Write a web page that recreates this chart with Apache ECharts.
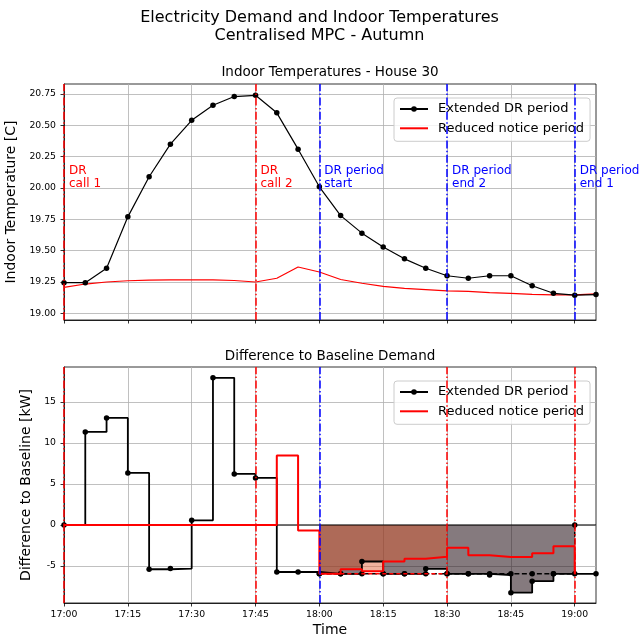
<!DOCTYPE html>
<html><head><meta charset="utf-8">
<script src="https://cdn.jsdelivr.net/npm/echarts@6/dist/echarts.min.js"></script>
<style>html,body{margin:0;padding:0;background:#fff}#c{width:639px;height:640px}</style>
</head><body><div id="c"></div>
<script>
// ---- data ----
const minutes = [0,5,10,15,20,25,30,35,40,45,50,55,60,65,70,75,80,85,90,95,100,105,110,115,120,125];
const xTickValues = [0,15,30,45,60,75,90,105,120];
const xTickLabels = ['17:00','17:15','17:30','17:45','18:00','18:15','18:30','18:45','19:00'];
const tempTicks = [19.00,19.25,19.50,19.75,20.00,20.25,20.50,20.75];
const demandTicks = [-5,0,5,10,15];

const tempExtended = [19.245,19.245,19.36,19.77,20.09,20.35,20.54,20.66,20.73,20.74,
                      20.60,20.31,20.01,19.78,19.64,19.53,19.435,19.36,19.30,19.28,
                      19.30,19.30,19.22,19.16,19.145,19.15];
const tempReduced = [19.207,19.234,19.25,19.26,19.265,19.267,19.268,19.267,19.262,19.25,
                     19.28,19.37,19.33,19.27,19.24,19.215,19.20,19.19,19.18,19.175,
                     19.165,19.16,19.152,19.148,19.147,19.155];

const demandExtended = [0,11.34,13.05,6.34,-5.4,-5.32,0.57,17.93,6.22,5.73,
                        -5.73,-5.73,-5.95,-5.95,-4.45,-5.95,-5.95,-5.34,-5.95,-5.95,
                        -6.1,-8.25,-6.85,-5.95,-5.95,-5.95];
const demandReduced = [0,0,0,0,0,0,0,0,0,0,
                       8.45,-0.67,-5.95,-5.4,-5.65,-4.45,-4.12,-3.88,-2.78,-3.68,
                       -3.9,-3.9,-3.45,-2.6,-5.95];
// reference levels during DR
const refExtendedTimes = [60,65,70,75,80,85,90,95,100,105,110,115,120];
const refExtended = [-5.95,-5.95,-5.95,-5.95,-5.95,-5.95,-5.95,-5.95,-5.95,-5.95,-5.95,-5.95,0];
const refReducedTimes = [60,65,70,75,80,85,90];
const refReduced = [-5.95,-5.95,-5.95,-5.95,-5.95,-5.95,-5.95];
const zeroLineTimes = [50,125];
const zeroLine = [0,0];

// event lines
const topEventTimes = [0,45,60,90,120];
const topEventKinds = ['call','call','period','period','period'];
const bottomEventTimes = [0,45,60,90,120];
const bottomEventKinds = ['call','call','period','call','call'];
const annotTimes = [0,45,60,90,120];
const annotTexts = ['DR\ncall 1','DR\ncall 2','DR period\nstart','DR period\nend 2','DR period\nend 1'];
const annotKinds = ['call','call','period','period','period'];

// ---- styles ----
const FONT = 'DejaVu Sans';
const kindColor = {call:'#ff0000', period:'#0000ff'};
const dashDot = [8,2.4,1.5,2.4];
const gridColor = '#b0b0b0';
const ANNOT_Y = 20.0876;

const pairs = (xs, ys) => xs.map((x,i) => [x, ys[i]]);
const sl = (a, s, e) => a.slice(s, e);

function vlines(times, kinds){
  return {
    silent:true, symbol:['none','none'], label:{show:false}, animation:false,
    data: times.map((t,i)=>({xAxis:t, lineStyle:{color:kindColor[kinds[i]], width:1.5, type:dashDot, opacity:1}}))
  };
}

const grids = [
  {left:64, right:43, top:84, height:236, show:true, borderColor:'#000', borderWidth:0.8, containLabel:false, outerBoundsMode:'none'},
  {left:64, right:43, top:367, height:236, show:true, borderColor:'#000', borderWidth:0.8, containLabel:false, outerBoundsMode:'none'}
];

function xAx(gi, showLabels){
  return {
    type:'value', gridIndex:gi, min:0, max:125, interval:15,
    axisLine:{show:true, onZero:false, lineStyle:{color:'#000', width:0.8}},
    axisTick:{show:true, length:3.5, lineStyle:{color:'#000', width:0.8}, customValues:xTickValues},
    splitLine:{show:true, lineStyle:{color:gridColor, width:0.8}},
    axisLabel:{show:showLabels, customValues:xTickValues, fontFamily:FONT, fontSize:9.3, color:'#000', margin:7,
      formatter: v => xTickLabels[xTickValues.indexOf(v)] || ''},
    name: showLabels ? 'Time' : '', nameLocation:'middle', nameGap:20,
    nameTextStyle:{fontFamily:FONT, fontSize:14, color:'#000'}
  };
}
function yAx(gi, mn, mx, ticks, dec, name, gap){
  return {
    type:'value', gridIndex:gi, min:mn, max:mx,
    axisLine:{show:true, onZero:false, lineStyle:{color:'#000', width:0.8}},
    axisTick:{show:true, length:3.5, lineStyle:{color:'#000', width:0.8}, customValues:ticks},
    splitLine:{show:true, lineStyle:{color:gridColor, width:0.8}},
    axisLabel:{customValues:ticks, fontFamily:FONT, fontSize:9.3, color:'#000', margin:8,
      formatter: v => Number(v).toFixed(dec)},
    name:name, nameLocation:'middle', nameGap:gap,
    nameTextStyle:{fontFamily:FONT, fontSize:14, color:'#000'}
  };
}

function legend(top){
  return {
    data:[
      {name:'Extended DR period', lineStyle:{color:'#000', width:2}, itemStyle:{color:'#000'}},
      {name:'Reduced notice period', lineStyle:{color:'#ff0000', width:2}, itemStyle:{color:'rgba(0,0,0,0)', borderWidth:0}}
    ],
    orient:'vertical', left:394, top:top,
    itemWidth:28, itemHeight:7, itemGap:5.3,
    padding:[4,6,6,5],
    backgroundColor:'rgba(255,255,255,0.8)', borderColor:'#cccccc', borderWidth:1, borderRadius:3,
    textStyle:{fontFamily:FONT, fontSize:13, color:'#000', lineHeight:14, padding:[0,0,0,5]},
    selectedMode:false
  };
}

const option = {
  animation:false,
  backgroundColor:'#fff',
  title:[
    {text:'Electricity Demand and Indoor Temperatures\nCentralised MPC - Autumn', left:'center', top:9, padding:0,
      textStyle:{fontFamily:FONT, fontSize:16, fontWeight:'normal', color:'#000', lineHeight:18}},
    {text:'Indoor Temperatures - House 30', left:330, textAlign:'center', top:65, padding:0,
      textStyle:{fontFamily:FONT, fontSize:13.5, fontWeight:'normal', color:'#000', lineHeight:14}},
    {text:'Difference to Baseline Demand', left:330, textAlign:'center', top:349, padding:0,
      textStyle:{fontFamily:FONT, fontSize:13.5, fontWeight:'normal', color:'#000', lineHeight:14}}
  ],
  legend:[legend(98), legend(381)],
  grid:grids,
  xAxis:[xAx(0,false), xAx(1,true)],
  yAxis:[
    yAx(0, 18.947, 20.83, tempTicks, 2, 'Indoor Temperature [C]', 41),
    yAx(1, -9.51, 19.25, demandTicks, 0, 'Difference to Baseline [kW]', 28)
  ],
  series:[
    // ---- top ----
    {name:'Reduced notice period', type:'line', xAxisIndex:0, yAxisIndex:0,
      data:pairs(minutes, tempReduced), symbol:'none', smooth:false,
      lineStyle:{color:'#ff0000', width:1.2}, itemStyle:{color:'#ff0000'}, z:2},
    {name:'Extended DR period', type:'line', xAxisIndex:0, yAxisIndex:0,
      data:pairs(minutes, tempExtended), symbol:'circle', symbolSize:5.5,
      lineStyle:{color:'#000', width:1.2}, itemStyle:{color:'#000'}, z:3},
    {name:'vlinesTop', type:'line', xAxisIndex:0, yAxisIndex:0, data:[], z:4,
      markLine:vlines(topEventTimes, topEventKinds)},
    {name:'annot', type:'scatter', xAxisIndex:0, yAxisIndex:0, silent:true, z:5, clip:false,
      data:annotTimes.map(t=>[t, ANNOT_Y]), symbolSize:1, itemStyle:{color:'rgba(0,0,0,0)'},
      label:{show:true, position:'right', distance:4.5, fontFamily:FONT, fontSize:12, lineHeight:13, align:'left',
        formatter:p=>annotTexts[p.dataIndex]},
      labelLayout:{hideOverlap:false}},
    // ---- bottom ----
    {name:'fillExt', type:'line', xAxisIndex:1, yAxisIndex:1, step:'end',
      data:pairs(sl(minutes,12,25), sl(demandExtended,12,25)), symbol:'none',
      lineStyle:{opacity:0, width:0}, areaStyle:{color:'rgba(33,13,20,0.55)', origin:0, opacity:1}, z:1, silent:true},
    {name:'fillRed', type:'line', xAxisIndex:1, yAxisIndex:1, step:'end',
      data:pairs(sl(minutes,12,19), sl(demandReduced,12,19)), symbol:'none',
      lineStyle:{opacity:0, width:0}, areaStyle:{color:'rgba(222,87,44,0.46)', origin:0, opacity:1}, z:1, silent:true},
    {name:'zero', type:'line', xAxisIndex:1, yAxisIndex:1, data:pairs(zeroLineTimes, zeroLine), symbol:'none',
      lineStyle:{color:'#000', width:1}, z:2, silent:true},
    {name:'Extended DR period', type:'line', xAxisIndex:1, yAxisIndex:1, step:'end',
      data:pairs(minutes, demandExtended), symbol:'circle', symbolSize:5.5,
      lineStyle:{color:'#000', width:1.8}, itemStyle:{color:'#000'}, z:3},
    {name:'refExt', type:'line', xAxisIndex:1, yAxisIndex:1, step:'end',
      data:pairs(refExtendedTimes, refExtended), symbol:'circle', symbolSize:5.5,
      lineStyle:{color:'#000', width:1.5, type:[5,2.5]}, itemStyle:{color:'#000'}, z:3},
    {name:'Reduced notice period', type:'line', xAxisIndex:1, yAxisIndex:1, step:'end',
      data:pairs(sl(minutes,0,25), demandReduced), symbol:'none',
      lineStyle:{color:'#ff0000', width:2}, itemStyle:{color:'#ff0000'}, z:4},
    {name:'refRed', type:'line', xAxisIndex:1, yAxisIndex:1, step:'end',
      data:pairs(refReducedTimes, refReduced), symbol:'none',
      lineStyle:{color:'#ff0000', width:1.5, type:[4,3]}, z:4},
    {name:'vlinesBottom', type:'line', xAxisIndex:1, yAxisIndex:1, data:[], z:5,
      markLine:vlines(bottomEventTimes, bottomEventKinds)}
  ]
};
// per-label colour (style, applied after build)
option.series[3].data = option.series[3].data.map((d,i)=>({value:d, label:{color:kindColor[annotKinds[i]], opacity:1}}));
const chart = echarts.init(document.getElementById('c'), null, {renderer:'canvas'});
chart.setOption(option);
</script></body></html>
